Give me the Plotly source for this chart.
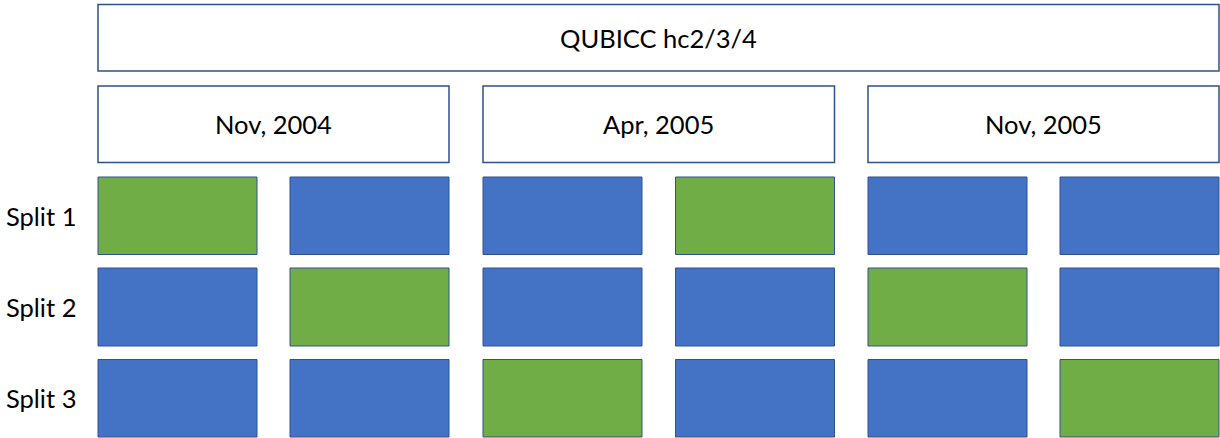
import plotly.graph_objects as go

# ---- data ----
title_label = "QUBICC hc2/3/4"
period_labels = ["Nov, 2004", "Apr, 2005", "Nov, 2005"]
split_labels = ["Split 1", "Split 2", "Split 3"]
# which of the six sub-blocks is held out (green) in each split: 1 = green, 0 = blue
split_assign = [
    [1, 0, 0, 1, 0, 0],
    [0, 1, 0, 0, 1, 0],
    [0, 0, 1, 0, 0, 1],
]

# ---- layout geometry (pixel-like data coords) ----
W, H = 1220, 438
col_edges = [(98, 257), (290, 449), (483, 642), (675.5, 834.5), (868, 1027), (1060, 1219)]
row_edges = [(177, 254.5), (268, 346), (359.5, 437)]
period_edges = [(98, 449), (483, 834.5), (868, 1219)]
period_y = (86, 162.5)
title_box = (98, 1219, 4.5, 71)

BLUE = "#4472C4"
GREEN = "#70AD47"
EDGE = "#2F528F"
FONT = "Lato"
FS = 25.5
TXT = "#000000"

fig = go.Figure()
shapes = []
annotations = []

# title box
x0, x1, y0, y1 = title_box
shapes.append(dict(type="rect", xref="x", yref="y", x0=x0, x1=x1, y0=y0, y1=y1,
                   fillcolor="white", line=dict(color=EDGE, width=1.5)))
annotations.append(dict(x=(x0 + x1) / 2, y=(y0 + y1) / 2, xref="x", yref="y",
                        text=title_label, showarrow=False,
                        font=dict(family=FONT, size=FS, color=TXT)))

# period boxes
for (px0, px1), lab in zip(period_edges, period_labels):
    shapes.append(dict(type="rect", xref="x", yref="y", x0=px0, x1=px1,
                       y0=period_y[0], y1=period_y[1],
                       fillcolor="white", line=dict(color=EDGE, width=1.5)))
    annotations.append(dict(x=(px0 + px1) / 2, y=(period_y[0] + period_y[1]) / 2,
                            xref="x", yref="y", text=lab, showarrow=False,
                            font=dict(family=FONT, size=FS, color=TXT)))

# split cells
for r, (ry0, ry1) in enumerate(row_edges):
    for c, (cx0, cx1) in enumerate(col_edges):
        color = GREEN if split_assign[r][c] else BLUE
        shapes.append(dict(type="rect", xref="x", yref="y", x0=cx0, x1=cx1,
                           y0=ry0, y1=ry1, fillcolor=color,
                           line=dict(color=EDGE, width=1)))
    annotations.append(dict(x=4, y=(ry0 + ry1) / 2, xref="x", yref="y",
                            text=split_labels[r], showarrow=False, xanchor="left",
                            font=dict(family=FONT, size=FS, color=TXT)))

fig.update_layout(
    width=W, height=H, autosize=False,
    margin=dict(l=0, r=0, t=0, b=0),
    paper_bgcolor="white", plot_bgcolor="white",
    shapes=shapes, annotations=annotations,
    xaxis=dict(range=[0, W], visible=False, fixedrange=True),
    yaxis=dict(range=[H, 0], visible=False, fixedrange=True),
    showlegend=False,
)

fig.write_html("out.html", config={"displayModeBar": False},
               post_script="document.body.style.margin='0';document.body.style.overflow='hidden';")
